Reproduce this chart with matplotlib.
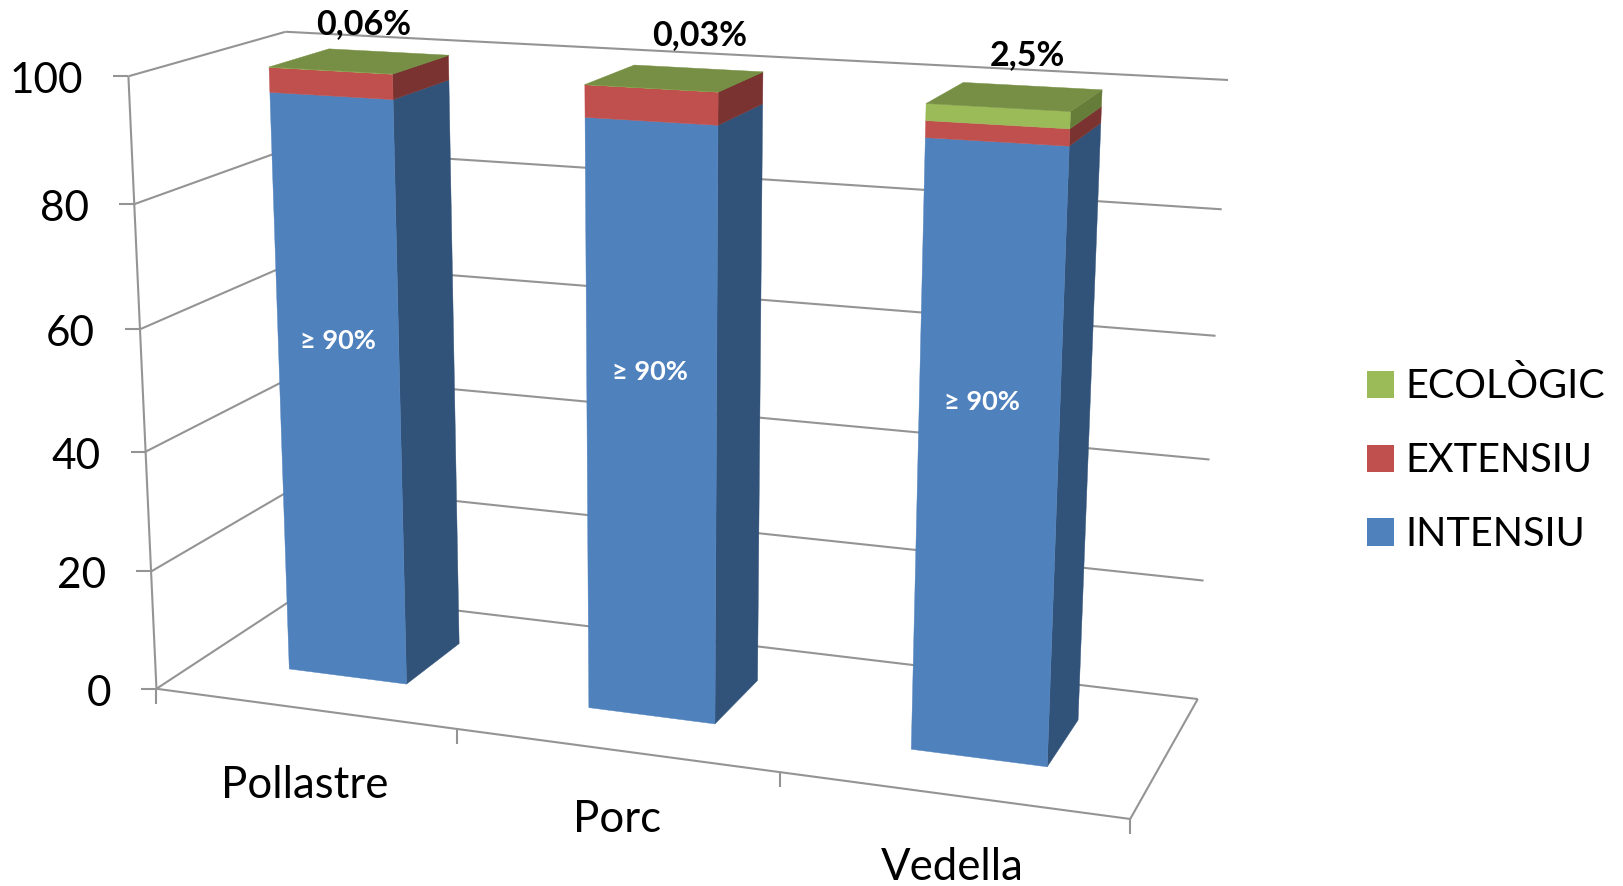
import numpy as np
import matplotlib
matplotlib.use("Agg")
import matplotlib.pyplot as plt
from matplotlib.patches import Polygon, Patch

# ---- data ----
categories = ["Pollastre", "Porc", "Vedella"]
intensiu = [96.0, 95.0, 95.0]
extensiu = [3.94, 4.97, 2.5]
ecologic = [0.06, 0.03, 2.5]
top_labels = ["0,06%", "0,03%", "2,5%"]
inner_labels = ["≥ 90%", "≥ 90%", "≥ 90%"]
y_ticks = [0, 20, 40, 60, 80, 100]
series_names = ["ECOLÒGIC", "EXTENSIU", "INTENSIU"]

# ---- layout ----
W, H = 1623, 886
FONT = ["Lato", "DejaVu Sans"]
GRID = "#949494"
LW = 1.5
FRONT = ["#4F81BD", "#C0504D", "#9BBB59"]
SIDE = ["#325379", "#7A3330", "#667C39"]
TOP = "#778F44"
top_pos = [(364, 24), (700, 35), (1027, 55)]
inner_pos = [(338, 341), (650, 372), (982, 402)]
cat_pos = [(305, 785), (617, 820), (952, 867)]
calib = [((0, 0, 0), (157, 689)), ((0, 0, 100), (128, 76)), ((0, 1, 100), (286, 32)),
         ((0, 1, 0), (303, 592)), ((1, 1, 0), (1198, 699)), ((1, 1, 100), (1228, 80)),
         ((1, 0, 0), (1130, 819))]

plt.rcParams["font.family"] = FONT
fig = plt.figure(figsize=(W / 100, H / 100), dpi=100)
ax = fig.add_axes([0, 0, 1, 1])
ax.set_xlim(0, W)
ax.set_ylim(H, 0)
ax.axis("off")

# camera: (category position, depth, value) -> pixel, fitted to the box corners
A, b = [], []
for (u, v, h), (x, y) in calib:
    h = h / 100
    A.append([u, v, h, 1, 0, 0, 0, 0, -x * u, -x * v, -x * h])
    b.append(x)
    A.append([0, 0, 0, 0, u, v, h, 1, -y * u, -y * v, -y * h])
    b.append(y)
P = np.append(np.linalg.lstsq(np.array(A, float), np.array(b, float), rcond=None)[0], 1).reshape(3, 4)


def proj(u, v, h):
    p = P @ np.array([u, v, h / 100, 1.0])
    return p[0] / p[2], p[1] / p[2]


def seg(p, q):
    ax.plot([p[0], q[0]], [p[1], q[1]], color=GRID, lw=LW, solid_capstyle="butt", zorder=1)


# walls, floor, ticks
for t in y_ticks:
    fl, bl, br = proj(0, 0, t), proj(0, 1, t), proj(1, 1, t)
    seg(fl, bl)
    seg(bl, br)
    seg((fl[0] - 15, fl[1]), fl)
    ax.text(fl[0] - 45, fl[1] + 5, str(t), ha="right", va="center", fontsize=30.5, color="black")
seg(proj(0, 0, 0), proj(0, 0, 100))
seg(proj(0, 0, 0), proj(1, 0, 0))
seg(proj(1, 0, 0), proj(1, 1, 0))
for k in range(4):
    p = proj(k / 3, 0, 0)
    seg(p, (p[0], p[1] + 15))

# stacked 3D bars
v0, v1 = 0.3, 0.7
n = len(categories)
for i in range(n):
    u0, u1 = (i + 0.3) / n, (i + 0.7) / n
    levels = np.cumsum([0, intensiu[i], extensiu[i], ecologic[i]])
    for j in range(3):
        lo, hi = levels[j], levels[j + 1]
        ax.add_patch(Polygon([proj(u1, v0, lo), proj(u1, v1, lo), proj(u1, v1, hi), proj(u1, v0, hi)],
                             fc=SIDE[j], ec=SIDE[j], lw=0.3, zorder=3))
        ax.add_patch(Polygon([proj(u0, v0, lo), proj(u1, v0, lo), proj(u1, v0, hi), proj(u0, v0, hi)],
                             fc=FRONT[j], ec=FRONT[j], lw=0.3, zorder=3))
    hi = levels[3]
    ax.add_patch(Polygon([proj(u0, v0, hi), proj(u1, v0, hi), proj(u1, v1, hi), proj(u0, v1, hi)],
                         fc=TOP, ec=TOP, lw=0.3, zorder=3))
    ax.text(*top_pos[i], top_labels[i], ha="center", va="center", fontsize=24.5, fontweight="bold",
            color="black", zorder=5)
    ax.text(*inner_pos[i], inner_labels[i], ha="center", va="center", fontsize=19.5, fontweight="bold",
            color="white", zorder=5)
    ax.text(*cat_pos[i], categories[i], ha="center", va="center", fontsize=31.5, color="black", zorder=5)

handles = [Patch(fc=FRONT[2], label=series_names[0]), Patch(fc=FRONT[1], label=series_names[1]),
           Patch(fc=FRONT[0], label=series_names[2])]
ax.legend(handles=handles, loc="center left", bbox_to_anchor=(1367 / W, 1 - 460 / H),
          bbox_transform=fig.transFigure, frameon=False, fontsize=28.5, borderpad=0, borderaxespad=0,
          handlelength=0.68, handleheight=0.68, handletextpad=0.3, labelspacing=0.93)
fig.savefig("out.png", dpi=100)
